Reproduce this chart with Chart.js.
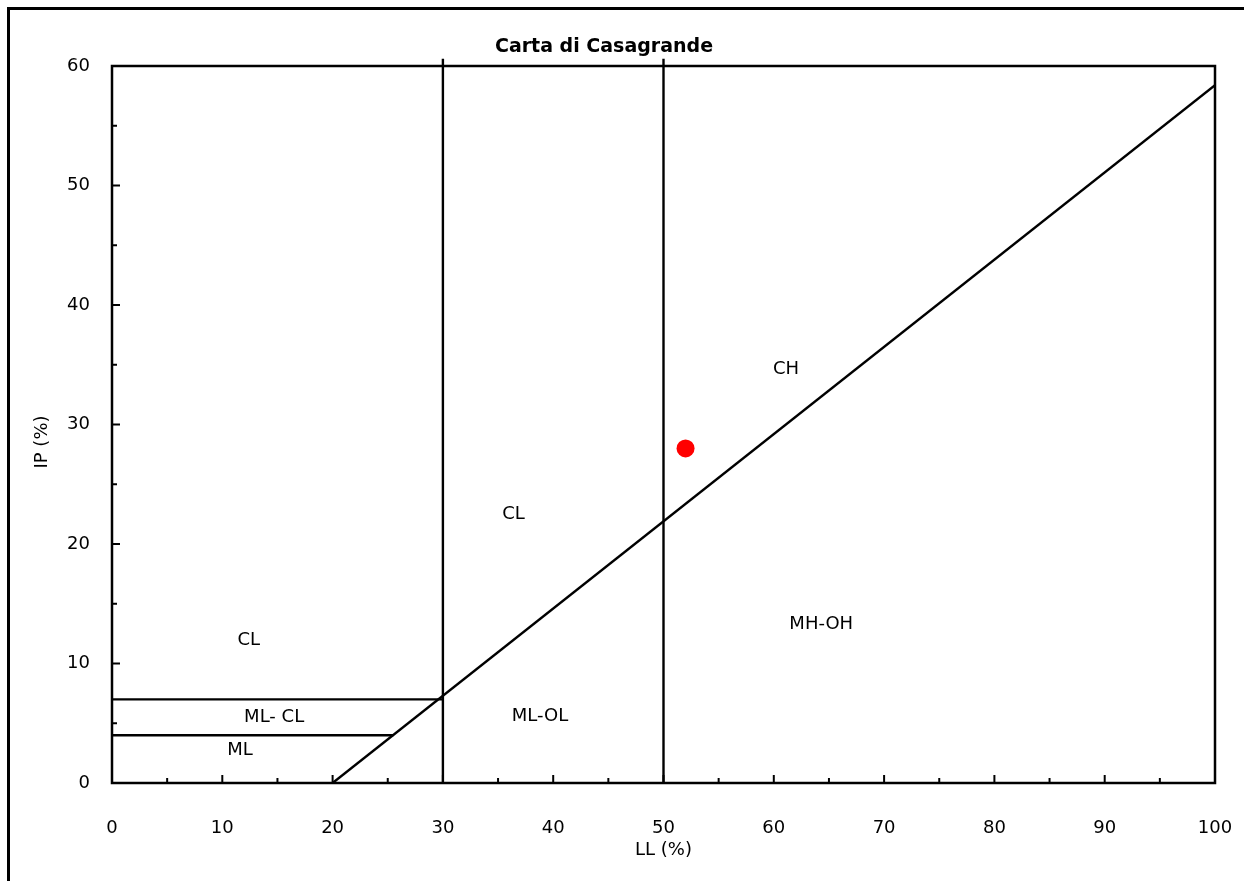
<!DOCTYPE html>
<html>
<head>
<meta charset="utf-8">
<script src="https://cdn.jsdelivr.net/npm/chart.js@4.4.0/dist/chart.umd.min.js"></script>
<style>
  html, body { margin: 0; padding: 0; background: #fff; overflow: hidden; }
  #wrap { width: 1244px; height: 881px; position: relative; }
</style>
</head>
<body>
<div id="wrap"><canvas id="chart" width="1244" height="881"></canvas></div>
<script>
// A-line (IP = 0.73 (LL - 20))
const aLineLL = [20, 100];
const aLineIP = [0, 58.4];
// vertical limits at LL = 30 and 50
const vLine30LL = [30, 30];
const vLine50LL = [50, 50];
const vLineIP = [0, 60.6];
// horizontal limits IP = 7 and IP = 4
const h7LL = [0, 30];
const h7IP = [7, 7];
const h4LL = [0, 25.5];
const h4IP = [4, 4];
// sample point
const sampleLL = [52];
const sampleIP = [28];
// zone labels
const zoneNames = ["CL", "ML- CL", "ML", "CL", "ML-OL", "CH", "MH-OH"];
const zoneLL = [12.4, 14.7, 11.6, 36.4, 38.8, 61.1, 64.3];
const zoneIP = [11.9, 5.5, 2.7, 22.5, 5.6, 34.6, 13.3];
// axes
const xTicks = [0, 10, 20, 30, 40, 50, 60, 70, 80, 90, 100];
const yTicks = [0, 10, 20, 30, 40, 50, 60];

const pts = (xs, ys) => xs.map((x, i) => ({ x, y: ys[i] }));
const line = (data, clip) => ({
  type: "line", data, showLine: true, borderColor: "#000", borderWidth: 2.4,
  pointRadius: 0, fill: false, clip: clip
});

const txtFont = '18px "DejaVu Sans"';

const extras = {
  id: "extras",
  afterDraw(chart) {
    const ctx = chart.ctx;
    const xs = chart.scales.x, ys = chart.scales.y;
    const a = chart.chartArea;
    ctx.save();
    // page frame (left + top)
    ctx.strokeStyle = "#000";
    ctx.lineWidth = 3;
    ctx.beginPath();
    ctx.moveTo(8.5, 900); ctx.lineTo(8.5, 8.5); ctx.lineTo(1260, 8.5);
    ctx.stroke();
    // plot frame
    ctx.lineWidth = 2.5;
    ctx.strokeRect(a.left, a.top, a.right - a.left, a.bottom - a.top);
    // inside ticks
    ctx.lineWidth = 2;
    for (let v = 5; v < 100; v += 5) {
      const px = xs.getPixelForValue(v);
      const len = v % 10 === 0 ? 8 : 5;
      ctx.beginPath(); ctx.moveTo(px, a.bottom); ctx.lineTo(px, a.bottom - len); ctx.stroke();
    }
    for (let v = 5; v <= 60; v += 5) {
      const py = ys.getPixelForValue(v);
      const len = v % 10 === 0 ? 8 : 5;
      ctx.beginPath(); ctx.moveTo(a.left, py); ctx.lineTo(a.left + len, py); ctx.stroke();
    }
    // zone labels
    ctx.fillStyle = "#000";
    ctx.font = txtFont;
    ctx.textAlign = "center";
    ctx.textBaseline = "middle";
    zoneNames.forEach((n, i) => {
      ctx.fillText(n, xs.getPixelForValue(zoneLL[i]), ys.getPixelForValue(zoneIP[i]));
    });
    // title
    ctx.font = 'bold 19px "DejaVu Sans"';
    ctx.fillText("Carta di Casagrande", 604, 47);
    // y title
    ctx.font = txtFont;
    ctx.translate(42, 442);
    ctx.rotate(-Math.PI / 2);
    ctx.fillText("IP (%)", 0, 0);
    ctx.restore();
  }
};

new Chart(document.getElementById("chart"), {
  type: "scatter",
  data: {
    datasets: [
      line(pts(aLineLL, aLineIP), true),
      line(pts(vLine30LL, vLineIP), false),
      line(pts(vLine50LL, vLineIP), false),
      line(pts(h7LL, h7IP), true),
      line(pts(h4LL, h4IP), true),
      {
        data: pts(sampleLL, sampleIP), backgroundColor: "#ff0000", borderColor: "#ff0000",
        pointRadius: 9, pointHoverRadius: 9, borderWidth: 0
      }
    ]
  },
  options: {
    responsive: false,
    animation: false,
    events: [],
    layout: { padding: { top: 66, right: 29, left: 0, bottom: 0 } },
    plugins: { legend: { display: false }, tooltip: { enabled: false }, title: { display: false } },
    scales: {
      x: {
        type: "linear", min: 0, max: 100,
        afterBuildTicks: s => { s.ticks = xTicks.map(v => ({ value: v })); },
        afterFit: s => { s.height = 98; s.paddingLeft = 0; s.paddingRight = 0; },
        grid: { display: false, drawTicks: false },
        border: { display: false },
        ticks: { color: "#000", font: { family: "DejaVu Sans", size: 18 }, padding: 35, maxRotation: 0 },
        title: { display: true, text: "LL (%)", color: "#000", font: { family: "DejaVu Sans", size: 18 }, padding: { top: 0, bottom: 20 } }
      },
      y: {
        type: "linear", min: 0, max: 60,
        afterBuildTicks: s => { s.ticks = yTicks.map(v => ({ value: v })); },
        afterFit: s => { s.width = 112; s.paddingTop = 0; s.paddingBottom = 0; },
        grid: { display: false, drawTicks: false },
        border: { display: false },
        ticks: { color: "#000", font: { family: "DejaVu Sans", size: 18 }, padding: 22 }
      }
    }
  },
  plugins: [extras]
});
</script>
</body>
</html>
